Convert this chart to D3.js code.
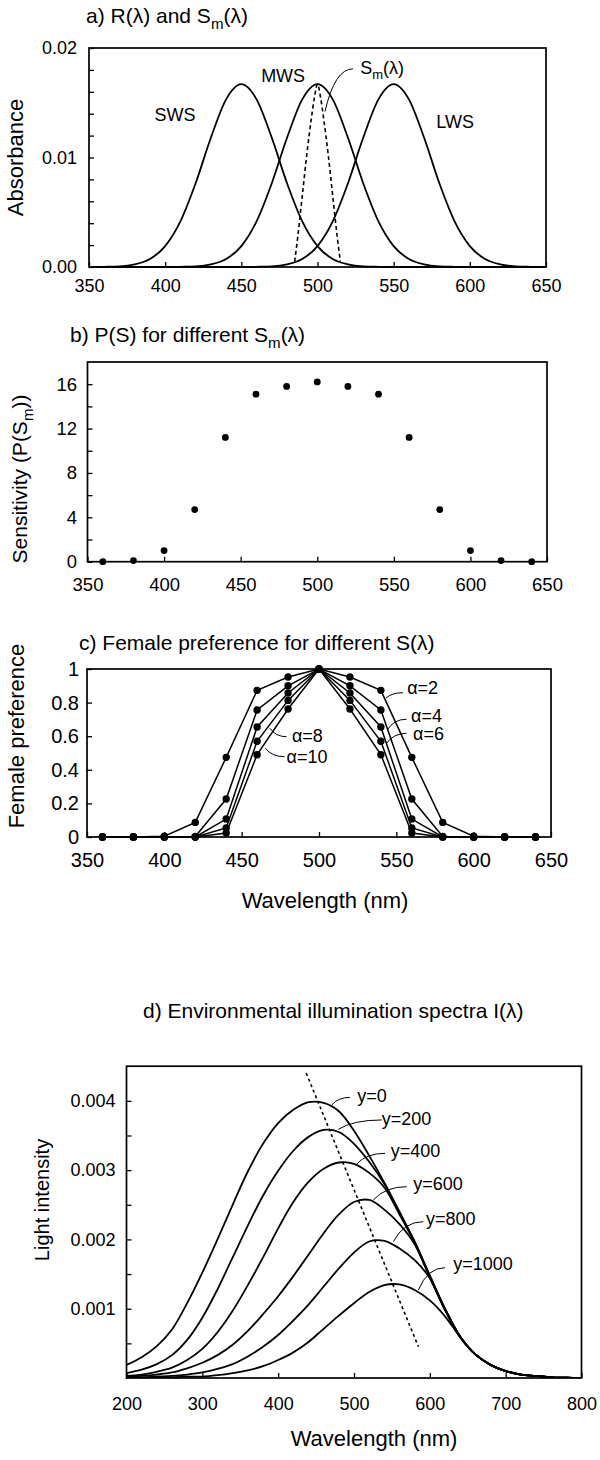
<!DOCTYPE html>
<html>
<head>
<meta charset="utf-8">
<title>Spectra</title>
<script src="https://cdn.jsdelivr.net/npm/d3@7"></script>
<style>
  body { margin: 0; background: #fff; }
  text { font-family: "Liberation Sans", Arial, Helvetica, sans-serif; fill: #000; }
</style>
</head>
<body>
<svg id="chart" width="600" height="1460"></svg>
<script>
// a) receptor absorbance R(λ) and the signal S_m(λ)
let aWavelength = [350, 360, 370, 380, 390, 400, 410, 420, 430, 440, 450, 460, 470, 480, 490, 500,
    510, 520, 530, 540, 550, 560, 570, 580, 590, 600, 610, 620, 630, 640, 650];
let sws = [0, 0.00002, 0.00006, 0.00024, 0.00073, 0.00191, 0.00417, 0.00765, 0.0118, 0.01531, 0.0167,
    0.01531, 0.0118, 0.00765, 0.00417, 0.00191, 0.00073, 0.00024, 0.00006, 0.00002, 0,
    0, 0, 0, 0, 0, 0, 0, 0, 0, 0];
let mws = [0, 0, 0, 0, 0, 0, 0.00002, 0.00006, 0.00024, 0.00073, 0.00191, 0.00417, 0.00765, 0.0118,
    0.01531, 0.0167, 0.01531, 0.0118, 0.00765, 0.00417, 0.00191, 0.00073, 0.00024, 0.00006, 0.00002,
    0, 0, 0, 0, 0, 0];
let lws = [0, 0, 0, 0, 0, 0, 0, 0, 0, 0, 0, 0.00002, 0.00006, 0.00024, 0.00073, 0.00191, 0.00417,
    0.00765, 0.0118, 0.01531, 0.0167, 0.01531, 0.0118, 0.00765, 0.00417, 0.00191, 0.00073, 0.00024,
    0.00006, 0.00002, 0];
let smWavelength = [485, 487, 490, 493, 496, 498, 500, 502, 504, 507, 510, 513, 515];
let sm = [0.0005, 0.0027, 0.0065, 0.0103, 0.0136, 0.0155, 0.0167, 0.0155, 0.0136, 0.0103, 0.0065, 0.0027, 0.0005];
let aXTicks = [350, 400, 450, 500, 550, 600, 650];
let aYTicks = [0, 0.01, 0.02];
let aYMinor = [0.002, 0.004, 0.006, 0.008, 0.012, 0.014, 0.016, 0.018];

// b) sensitivity P(S_m)
let bWavelength = [360, 380, 400, 420, 440, 460, 480, 500, 520, 540, 560, 580, 600, 620, 640];
let sensitivity = [0, 0.1, 1.0, 4.7, 11.2, 15.1, 15.8, 16.2, 15.8, 15.1, 11.2, 4.7, 1.0, 0.1, 0];
let bYTicks = [0, 4, 8, 12, 16];
let bYMinor = [2, 6, 10, 14];

// c) female preference for alpha = 2..10
let cWavelength = [360, 380, 400, 420, 440, 460, 480, 500, 520, 540, 560, 580, 600, 620, 640];
let prefAlpha2 = [0, 0, 0.005, 0.087, 0.474, 0.873, 0.952, 1, 0.952, 0.873, 0.474, 0.087, 0.005, 0, 0];
let prefAlpha4 = [0, 0, 0, 0.003, 0.226, 0.756, 0.9, 1, 0.9, 0.756, 0.226, 0.003, 0, 0, 0];
let prefAlpha6 = [0, 0, 0, 0, 0.107, 0.655, 0.857, 1, 0.857, 0.655, 0.107, 0, 0, 0, 0];
let prefAlpha8 = [0, 0, 0, 0, 0.054, 0.57, 0.813, 1, 0.813, 0.57, 0.054, 0, 0, 0, 0];
let prefAlpha10 = [0, 0, 0, 0, 0.024, 0.49, 0.762, 1, 0.762, 0.49, 0.024, 0, 0, 0, 0];
let cYTicks = [0, 0.2, 0.4, 0.6, 0.8, 1];

// d) illumination spectra at depth y
let dWavelength = [200, 220, 240, 260, 280, 300, 320, 340, 360, 380, 400, 420, 440, 460, 480, 500,
    520, 540, 560, 580, 600, 620, 640, 660, 680, 700, 720, 740, 760, 780, 800];
let depth0 = [0.00019, 0.0003, 0.00046, 0.0007, 0.00108, 0.00152, 0.002, 0.0025, 0.00298, 0.00338,
    0.00368, 0.00387, 0.00398, 0.00397, 0.00385, 0.00357, 0.00321, 0.00282, 0.0024, 0.00197, 0.00148,
    0.001, 0.0006, 0.00034, 0.00019, 0.0001, 0.00005, 0.00003, 0.00001, 0.000005, 0];
let depth200 = [0.00007, 0.00012, 0.0002, 0.00033, 0.00055, 0.00087, 0.00128, 0.00174, 0.0022, 0.00263,
    0.00299, 0.00328, 0.00348, 0.00358, 0.00355, 0.00338, 0.00312, 0.0028, 0.00238, 0.00196, 0.00147,
    0.001, 0.0006, 0.00034, 0.00019, 0.0001, 0.00005, 0.00003, 0.00001, 0.000005, 0];
let depth400 = [0.00003, 0.00005, 0.00009, 0.00015, 0.00026, 0.00042, 0.00066, 0.00097, 0.00134, 0.00174,
    0.00216, 0.00254, 0.00283, 0.00302, 0.00311, 0.00309, 0.00296, 0.00275, 0.00236, 0.00195, 0.00146,
    0.00099, 0.0006, 0.00034, 0.00019, 0.0001, 0.00005, 0.00003, 0.00001, 0.000005, 0];
let depth600 = [0.00002, 0.00003, 0.00005, 0.00008, 0.00014, 0.00022, 0.00033, 0.00048, 0.00068, 0.00092,
    0.00118, 0.00147, 0.00178, 0.00209, 0.00236, 0.00254, 0.00257, 0.00243, 0.00222, 0.00193, 0.00145,
    0.00099, 0.00059, 0.00034, 0.00019, 0.0001, 0.00005, 0.00003, 0.00001, 0.000005, 0];
let depth800 = [0.00001, 0.00001, 0.00002, 0.00003, 0.00005, 0.00008, 0.00013, 0.0002, 0.00031, 0.00045,
    0.00062, 0.00083, 0.00106, 0.00132, 0.00158, 0.00181, 0.00197, 0.00198, 0.00187, 0.0017, 0.00144,
    0.00098, 0.00059, 0.00034, 0.00019, 0.0001, 0.00005, 0.00003, 0.00001, 0.000005, 0];
let depth1000 = [0, 0, 0.00001, 0.00001, 0.00002, 0.00002, 0.00004, 0.00007, 0.00011, 0.00017,
    0.00026, 0.00037, 0.00052, 0.00071, 0.0009, 0.00108, 0.00124, 0.00134, 0.00135, 0.00127, 0.00112,
    0.00089, 0.00059, 0.00034, 0.00019, 0.0001, 0.00005, 0.00003, 0.00001, 0.000005, 0];
let depthNames = ["y=0", "y=200", "y=400", "y=600", "y=800", "y=1000"];
let peakLineWavelength = [437, 585];
let peakLineValue = [0.0044, 0.00045];
let dXTicks = [200, 300, 400, 500, 600, 700, 800];
let dYTicks = [0.001, 0.002, 0.003, 0.004];
let dYMinor = [0.0005, 0.0015, 0.0025, 0.0035];


const svg = d3.select("#chart");

function makePanel(xDomain, xRange, yDomain, yRange) {
    const x = d3.scaleLinear().domain(xDomain).range(xRange);
    const y = d3.scaleLinear().domain(yDomain).range(yRange);
    return {x, y};
}

// inward ticks on bottom and left, boxed frame
function drawAxes(p, o) {
    const gx = svg.append("g")
        .attr("transform", `translate(0,${p.y.range()[0]})`)
        .call(d3.axisBottom(p.x).tickValues(o.xTicks).tickSize(-5).tickPadding(o.xPad).tickFormat(d3.format("d")));
    const gy = svg.append("g")
        .attr("transform", `translate(${p.x.range()[0]},0)`)
        .call(d3.axisLeft(p.y).tickValues(o.yTicks).tickSize(-5).tickPadding(o.yPad).tickFormat(o.yFormat));
    const groups = [gx, gy];
    if (o.yMinor) {
        groups.push(svg.append("g")
            .attr("transform", `translate(${p.x.range()[0]},0)`)
            .call(d3.axisLeft(p.y).tickValues(o.yMinor).tickSize(-5).tickFormat(() => "")));
    }
    groups.forEach(g => {
        g.attr("font-size", o.fontSize).attr("font-family", null);
        g.select(".domain").remove();
        g.selectAll("line").attr("stroke-width", 1.3);
    });
    const [x0, x1] = p.x.range(), [y0, y1] = p.y.range();
    svg.append("rect")
        .attr("x", x0).attr("y", y1)
        .attr("width", x1 - x0).attr("height", y0 - y1)
        .attr("fill", "none").attr("stroke", "#000").attr("stroke-width", 1.7);
}

// text with optional subscript parts {sub: "m"}
function richText(parent, x, y, parts, fontSize, anchor) {
    const t = parent.append("text")
        .attr("x", x).attr("y", y)
        .attr("font-size", fontSize)
        .attr("text-anchor", anchor || "start");
    let shift = 0;
    parts.forEach(part => {
        if (typeof part === "string") {
            t.append("tspan").attr("dy", -shift).text(part);
            shift = 0;
        } else {
            shift = fontSize * 0.28;
            t.append("tspan").attr("dy", shift).attr("font-size", fontSize * 0.72).text(part.sub);
        }
    });
    return t;
}

function yTitle(cx, cy, parts, fontSize) {
    const g = svg.append("g").attr("transform", `translate(${cx + fontSize * 0.35},${cy}) rotate(-90)`);
    richText(g, 0, 0, parts, fontSize, "middle");
}

// leader from label (start) curving to the curve (end), given in data units
function leader(p, x1, y1, x2, y2) {
    const ax = p.x(x1), ay = p.y(y1), bx = p.x(x2), by = p.y(y2);
    const path = d3.path();
    path.moveTo(ax, ay);
    path.quadraticCurveTo(bx + (ax - bx) * 0.35, ay, bx, by);
    svg.append("path").attr("d", path.toString())
        .attr("fill", "none").attr("stroke", "#000").attr("stroke-width", 1);
}

function curve(p, xs, ys, curveType, dash, width) {
    const line = d3.line()
        .x(i => p.x(xs[i]))
        .y(i => p.y(ys[i]))
        .curve(curveType);
    return svg.append("path")
        .attr("d", line(d3.range(xs.length)))
        .attr("fill", "none")
        .attr("stroke", "#000")
        .attr("stroke-width", width || 1.8)
        .attr("stroke-dasharray", dash || null);
}

// ---------- panel a
const pa = makePanel([350, 650], [89, 546], [0, 0.02], [267, 48]);
[sws, mws, lws].forEach(s => curve(pa, aWavelength, s, d3.curveMonotoneX));
curve(pa, smWavelength, sm, d3.curveMonotoneX, "4,3", 1.6);
drawAxes(pa, {xTicks: aXTicks, yTicks: aYTicks, yMinor: aYMinor, xPad: 12, yPad: 12,
    yFormat: d3.format(".2f"), fontSize: 18});
richText(svg, 86, 23, ["a) R(λ) and S", {sub: "m"}, "(λ)"], 21);
yTitle(15.5, 157.5, ["Absorbance"], 22);
richText(svg, pa.x(393), pa.y(0.0133), ["SWS"], 18);
richText(svg, pa.x(463), pa.y(0.0169), ["MWS"], 18);
richText(svg, pa.x(578), pa.y(0.0127), ["LWS"], 18);
richText(svg, pa.x(528), pa.y(0.0176), ["S", {sub: "m"}, "(λ)"], 18);
leader(pa, 523.3, 0.0181, 504.9, 0.0142);

// ---------- panel b
const pb = makePanel([350, 650], [87.5, 547], [0, 18], [561.7, 362]);
drawAxes(pb, {xTicks: aXTicks, yTicks: bYTicks, yMinor: bYMinor, xPad: 16, yPad: 10.5,
    yFormat: d => d, fontSize: 18.5});
svg.append("g").selectAll("circle")
    .data(bWavelength)
    .join("circle")
    .attr("cx", d => pb.x(d))
    .attr("cy", (d, i) => pb.y(sensitivity[i]))
    .attr("r", 3.4);
richText(svg, 70, 342, ["b) P(S) for different S", {sub: "m"}, "(λ)"], 21);
yTitle(20, 479, ["Sensitivity (P(S", {sub: "m"}, "))"], 21);

// ---------- panel c
const pc = makePanel([350, 650], [87, 551], [0, 1], [837, 669]);
let prefSeries = [prefAlpha2, prefAlpha4, prefAlpha6, prefAlpha8, prefAlpha10];
prefSeries.forEach(s => curve(pc, cWavelength, s, d3.curveLinear, null, 1.5));
prefSeries.forEach(s => {
    svg.append("g").selectAll("circle")
        .data(cWavelength)
        .join("circle")
        .attr("cx", d => pc.x(d))
        .attr("cy", (d, i) => pc.y(s[i]))
        .attr("r", 3.7);
});
drawAxes(pc, {xTicks: aXTicks, yTicks: cYTicks, xPad: 16, yPad: 8,
    yFormat: d => String(d), fontSize: 20});
richText(svg, 79, 650, ["c) Female preference for different S(λ)"], 21);
yTitle(16.5, 736, ["Female preference"], 22);
richText(svg, 325, 908, ["Wavelength (nm)"], 22, "middle");
richText(svg, pc.x(557), pc.y(0.849), ["α=2"], 18);
richText(svg, pc.x(559.5), pc.y(0.686), ["α=4"], 18);
richText(svg, pc.x(560.8), pc.y(0.577), ["α=6"], 18);
richText(svg, pc.x(482.5), pc.y(0.567), ["α=8"], 18);
richText(svg, pc.x(479), pc.y(0.439), ["α=10"], 18);
leader(pc, 554.3, 0.859, 543.3, 0.827);
leader(pc, 556.6, 0.701, 544.1, 0.637);
leader(pc, 556.6, 0.617, 543.7, 0.558);
leader(pc, 479, 0.597, 468.3, 0.647);
leader(pc, 477.7, 0.478, 465.3, 0.528);

// ---------- panel d
const pd = makePanel([200, 800], [126.5, 581.5], [0, 0.0045], [1378, 1066.2]);
svg.append("clipPath").attr("id", "clipD").append("rect")
    .attr("x", 126.5).attr("y", 1060).attr("width", 455).attr("height", 318);
const dCurves = svg.append("g").attr("clip-path", "url(#clipD)");
[depth0, depth200, depth400, depth600, depth800, depth1000].forEach(s => {
    const line = d3.line().x(i => pd.x(dWavelength[i])).y(i => pd.y(s[i])).curve(d3.curveCatmullRom);
    dCurves.append("path")
        .attr("d", line(d3.range(dWavelength.length)))
        .attr("fill", "none").attr("stroke", "#000").attr("stroke-width", 1.8);
});
curve(pd, peakLineWavelength, peakLineValue, d3.curveLinear, "3,3", 1.6);
drawAxes(pd, {xTicks: dXTicks, yTicks: dYTicks, yMinor: dYMinor, xPad: 19, yPad: 11,
    yFormat: d => String(d), fontSize: 18});
richText(svg, 143, 1018, ["d) Environmental illumination spectra I(λ)"], 21);
yTitle(42, 1200, ["Light intensity"], 20);
richText(svg, 374, 1446, ["Wavelength (nm)"], 22, "middle");

let depthLabelPos = [[504.4, 0.00399], [536.5, 0.00365], [548.4, 0.003185], [578.2, 0.002713], [595, 0.002208], [631, 0.001559]];
let depthLeaders = [
    [494.7, 0.00405, 470.6, 0.00394],
    [536.5, 0.003724, 479.3, 0.003589],
    [540.9, 0.003243, 503.6, 0.003089],
    [569.5, 0.002761, 525.5, 0.002569],
    [591.4, 0.002256, 551.8, 0.001967],
    [620, 0.001592, 584.8, 0.00127]
];
depthNames.forEach((name, i) => {
    richText(svg, pd.x(depthLabelPos[i][0]), pd.y(depthLabelPos[i][1]), [name], 18);
    leader(pd, ...depthLeaders[i]);
});
</script>
</body>
</html>
